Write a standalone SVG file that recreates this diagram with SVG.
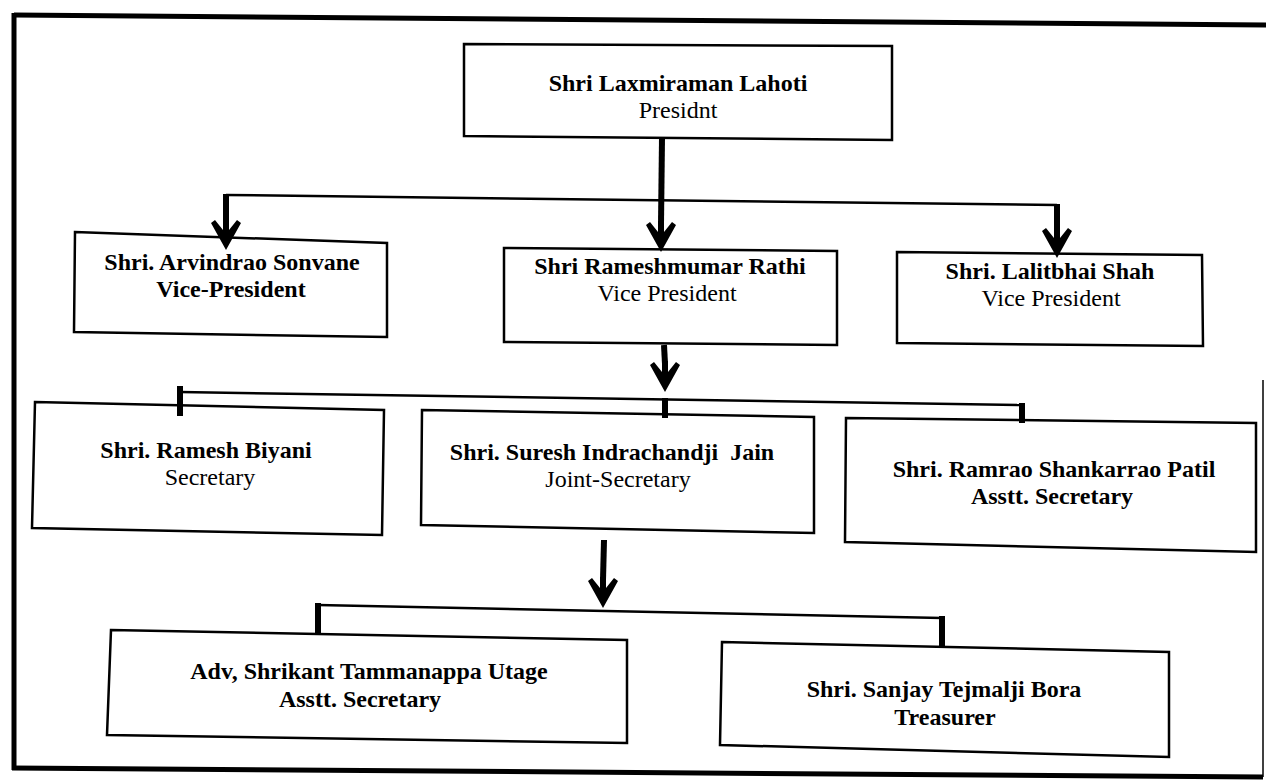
<svg xmlns="http://www.w3.org/2000/svg" width="1266" height="781" viewBox="0 0 1266 781">
<style>
.box{fill:none;stroke:#000;stroke-width:2.5;stroke-linejoin:miter}
.nm{font-family:"Liberation Serif","Times New Roman",serif;font-size:24px;font-weight:bold;text-anchor:middle;fill:#000}
.rl{font-family:"Liberation Serif","Times New Roman",serif;font-size:24px;font-weight:normal;text-anchor:middle;fill:#000}
.thin{fill:none;stroke:#000;stroke-width:2.5}
.thick{fill:none;stroke:#000;stroke-width:6}
.frame{fill:none;stroke:#000;stroke-width:5}
.ah{fill:#000}
</style>
<defs>
<path id="ah" d="M0,0 L15,-27 L11,-30 L3,-20 L3,-31 L-3,-31 L-3,-20 L-11,-30 L-15,-27 Z"/>
</defs>
<rect width="1266" height="781" fill="#fff"/>
<g id="frame">
<path class="frame" d="M14,15 L1266,25"/>
<path class="frame" d="M14,13 L14,770"/>
<path class="frame" d="M12,768 L1263,777"/>
<path d="M1263,380 L1263,777" fill="none" stroke="#000" stroke-width="1.5"/>
</g>
<g id="connectors">
<path class="thick" d="M662,138 L661,224"/>
<use href="#ah" class="ah" x="661" y="252"/>
<path class="thin" d="M226,195 L1057,205"/>
<path class="thick" d="M226,194 L226,222"/>
<use href="#ah" class="ah" x="226" y="250"/>
<path class="thick" d="M1057,204 L1057,230"/>
<use href="#ah" class="ah" x="1057" y="258"/>
<path class="thick" d="M664,345 L665,364"/>
<use href="#ah" class="ah" x="665" y="392"/>
<path class="thin" d="M180,392 L1022,405"/>
<path class="thick" d="M180,386 L180,416"/>
<path class="thick" d="M665,398 L665,418"/>
<path class="thick" d="M1022,403 L1022,423"/>
<path class="thick" d="M604,540 L603,580"/>
<use href="#ah" class="ah" x="603" y="608"/>
<path class="thin" d="M318,605 L942,618"/>
<path class="thick" d="M318,603 L318,633"/>
<path class="thick" d="M942,616 L942,647"/>
</g>
<g id="n-president">
<path class="box" d="M464,44 L892,46 L892,140 L464,136 Z"/>
<text class="nm" x="678" y="91">Shri Laxmiraman Lahoti</text>
<text class="rl" x="678" y="118">Presidnt</text>
</g>
<g id="n-arvindrao">
<path class="box" d="M75,232 L387,243 L387,337 L74,332 Z"/>
<text class="nm" x="232" y="270">Shri. Arvindrao Sonvane</text>
<text class="nm" x="231" y="297">Vice-President</text>
</g>
<g id="n-rameshmumar">
<path class="box" d="M504,248 L837,251 L837,345 L504,342 Z"/>
<text class="nm" x="670" y="274">Shri Rameshmumar Rathi</text>
<text class="rl" x="667" y="301">Vice President</text>
</g>
<g id="n-lalitbhai">
<path class="box" d="M897,252 L1202,255 L1203,346 L897,343 Z"/>
<text class="nm" x="1050" y="279">Shri. Lalitbhai Shah</text>
<text class="rl" x="1051" y="306">Vice President</text>
</g>
<g id="n-biyani">
<path class="box" d="M35,402 L384,410 L382,535 L32,528 Z"/>
<text class="nm" x="206" y="458">Shri. Ramesh Biyani</text>
<text class="rl" x="210" y="485">Secretary</text>
</g>
<g id="n-jain">
<path class="box" d="M422,410 L814,417 L814,533 L421,525 Z"/>
<text class="nm" x="612" y="460" xml:space="preserve">Shri. Suresh Indrachandji  Jain</text>
<text class="rl" x="618" y="487">Joint-Secretary</text>
</g>
<g id="n-patil">
<path class="box" d="M846,418 L1256,423 L1256,552 L845,542 Z"/>
<text class="nm" x="1054" y="477">Shri. Ramrao Shankarrao Patil</text>
<text class="nm" x="1052" y="504">Asstt. Secretary</text>
</g>
<g id="n-utage">
<path class="box" d="M111,630 L627,640 L627,743 L107,735 Z"/>
<text class="nm" x="369" y="679">Adv, Shrikant Tammanappa Utage</text>
<text class="nm" x="360" y="707">Asstt. Secretary</text>
</g>
<g id="n-bora">
<path class="box" d="M722,642 L1169,652 L1169,757 L720,745 Z"/>
<text class="nm" x="944" y="697">Shri. Sanjay Tejmalji Bora</text>
<text class="nm" x="945" y="725">Treasurer</text>
</g>
</svg>
